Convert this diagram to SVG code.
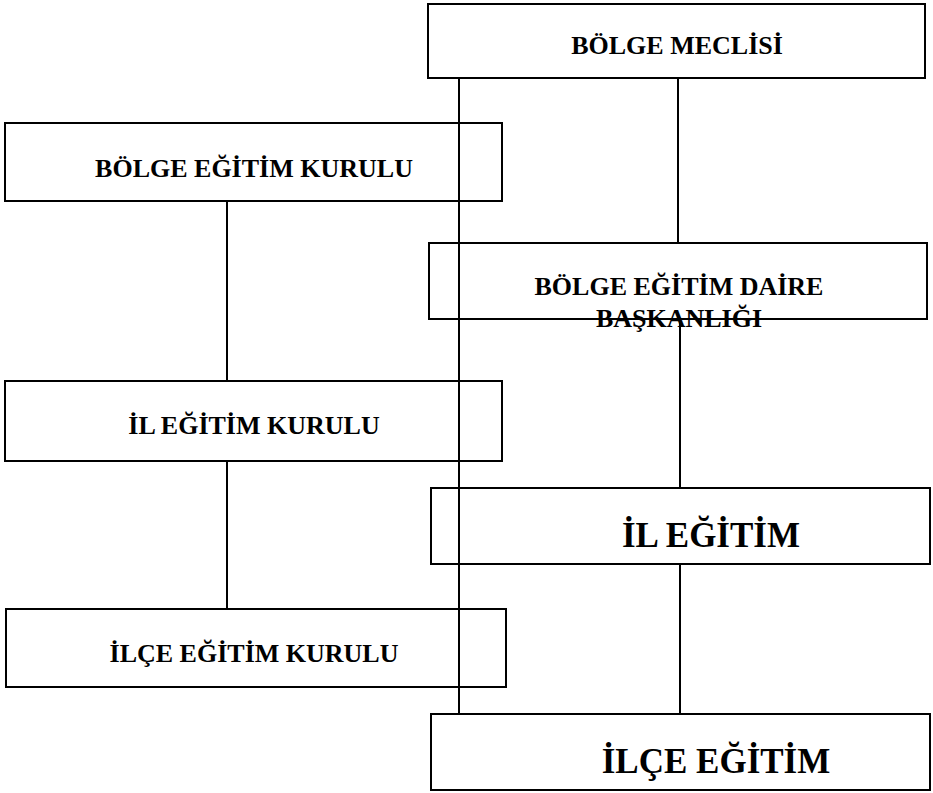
<svg xmlns="http://www.w3.org/2000/svg" width="933" height="793" viewBox="0 0 933 793">
<style>
.box{fill:none;stroke:#000;stroke-width:2}
.ln{stroke:#000;stroke-width:2;fill:none}
.t{font-family:"Liberation Serif","Times New Roman",serif;font-weight:bold;fill:#000;text-anchor:middle}
.s{font-size:26px}
.b{font-size:35px}
</style>
<rect width="933" height="793" fill="#fff"/>
<g id="connectors">
<line class="ln" x1="459" y1="78" x2="459" y2="714"/>
<line class="ln" x1="678" y1="78" x2="678" y2="243"/>
<line class="ln" x1="680" y1="319" x2="680" y2="488"/>
<line class="ln" x1="680" y1="564" x2="680" y2="714"/>
<line class="ln" x1="227" y1="201" x2="227" y2="381"/>
<line class="ln" x1="227" y1="461" x2="227" y2="609"/>
</g>
<g id="bolge-meclisi">
<rect class="box" x="428" y="4" width="497" height="74"/>
<text class="t s" x="677" y="54">BÖLGE MECLİSİ</text>
</g>
<g id="bolge-egitim-kurulu">
<rect class="box" x="5" y="123" width="497" height="78"/>
<text class="t s" x="254" y="177">BÖLGE EĞİTİM KURULU</text>
</g>
<g id="bolge-egitim-daire">
<rect class="box" x="429" y="243" width="498" height="76"/>
<text class="t s" x="679" y="295">BÖLGE EĞİTİM DAİRE</text>
<text class="t s" x="679" y="327">BAŞKANLIĞI</text>
</g>
<g id="il-egitim-kurulu">
<rect class="box" x="5" y="381" width="497" height="80"/>
<text class="t s" x="254" y="434">İL EĞİTİM KURULU</text>
</g>
<g id="il-egitim">
<rect class="box" x="431" y="488" width="499" height="76"/>
<text class="t b" x="711" y="547">İL EĞİTİM</text>
</g>
<g id="ilce-egitim-kurulu">
<rect class="box" x="6" y="609" width="500" height="78"/>
<text class="t s" x="254" y="662">İLÇE EĞİTİM KURULU</text>
</g>
<g id="ilce-egitim">
<rect class="box" x="431" y="714" width="499" height="76"/>
<text class="t b" x="716" y="773">İLÇE EĞİTİM</text>
</g>
</svg>
